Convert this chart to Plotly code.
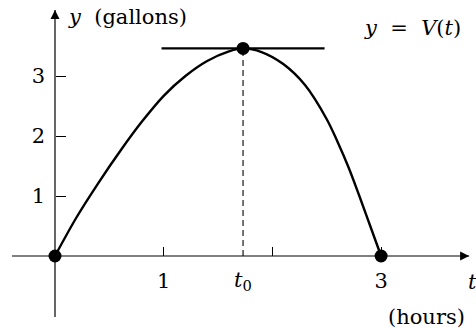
import plotly.graph_objects as go

# V(t): gallons in the tank over time (hours)
t_hours = [0, 0.2, 0.4, 0.6, 0.8, 1.0, 1.2, 1.4, 1.6, 1.73,
           1.9, 2.1, 2.3, 2.5, 2.6, 2.7, 2.8, 2.9, 3.0]
v_gallons = [0, 0.65, 1.22, 1.75, 2.24, 2.67, 3.0, 3.25, 3.41, 3.46,
             3.40, 3.20, 2.85, 2.28, 1.9, 1.48, 1.0, 0.5, 0]

t0 = 1.73          # time of the maximum
v_max = 3.46       # maximum volume
tangent_t = [0.98, 2.48]   # extent of the horizontal tangent at the maximum
dot_t = [0, t0, 3.0]
dot_v = [0, v_max, 0]

x_ticks = [1, 3]
x_tick_text = ["1", "3"]
x_minor_ticks = [2]
y_ticks = [1, 2, 3]
y_tick_text = ["1", "2", "3"]

W, H = 476, 328
x_range = [-0.506, 3.873]
y_range = [-1.2, 4.267]
x_axis_span = [-0.396, 3.81]
y_axis_span = [-1.017, 4.1]

FONT = "DejaVu Serif"
INK = "black"

fig = go.Figure()

# coordinate axes with arrow heads
fig.add_trace(go.Scatter(x=x_axis_span, y=[0, 0], mode="lines",
                         line=dict(color=INK, width=1.2), hoverinfo="skip"))
fig.add_trace(go.Scatter(x=[0, 0], y=y_axis_span, mode="lines",
                         line=dict(color=INK, width=1.2), hoverinfo="skip"))
fig.add_trace(go.Scatter(x=[x_axis_span[1]], y=[0], mode="markers",
                         marker=dict(symbol="arrow-right", size=9, color=INK),
                         hoverinfo="skip"))
fig.add_trace(go.Scatter(x=[0], y=[y_axis_span[1]], mode="markers",
                         marker=dict(symbol="arrow-up", size=9, color=INK),
                         hoverinfo="skip"))

# curve
fig.add_trace(go.Scatter(x=t_hours, y=v_gallons, mode="lines",
                         line=dict(color=INK, width=2.4, shape="spline", smoothing=1.0),
                         hoverinfo="skip"))
# horizontal tangent
fig.add_trace(go.Scatter(x=tangent_t, y=[v_max, v_max], mode="lines",
                         line=dict(color=INK, width=2.4), hoverinfo="skip"))
# dashed drop line at t0
fig.add_trace(go.Scatter(x=[t0, t0], y=[0, v_max], mode="lines",
                         line=dict(color=INK, width=1.1, dash="6px,4px"), hoverinfo="skip"))
# marked points
fig.add_trace(go.Scatter(x=dot_t, y=dot_v, mode="markers",
                         marker=dict(color=INK, size=13), hoverinfo="skip"))

annotations = [
    dict(x=66 / W, y=1 - 17 / H, xref="paper", yref="paper", xanchor="left",
         yanchor="middle", text="<i>y</i>  (gallons)", showarrow=False),
    dict(x=412 / W, y=1 - 28 / H, xref="paper", yref="paper", xanchor="center",
         yanchor="middle", text="<i>y</i>&nbsp;&nbsp;=&nbsp;&nbsp;<i>V</i>(<i>t</i>)",
         showarrow=False),
    dict(x=t0, y=1 - 281 / H, xref="x", yref="paper", xanchor="center",
         yanchor="middle", text="<i>t</i><sub>0</sub>", showarrow=False),
    dict(x=472 / W, y=1 - 282 / H, xref="paper", yref="paper", xanchor="center",
         yanchor="middle", text="<i>t</i>", showarrow=False),
    dict(x=426 / W, y=1 - 317 / H, xref="paper", yref="paper", xanchor="center",
         yanchor="middle", text="(hours)", showarrow=False),
]

fig.update_layout(
    width=W, height=H, margin=dict(l=0, r=0, t=0, b=0),
    paper_bgcolor="white", plot_bgcolor="white", showlegend=False,
    font=dict(family=FONT, size=21, color=INK),
    annotations=annotations,
    xaxis=dict(range=x_range, domain=[0, 1], anchor="free",
               position=(0 - y_range[0]) / (y_range[1] - y_range[0]),
               showgrid=False, zeroline=False, showline=False,
               tickvals=x_ticks, ticktext=x_tick_text, ticks="inside",
               ticklen=9, tickwidth=1.2, tickcolor=INK, ticklabelstandoff=10,
               minor=dict(tickvals=x_minor_ticks, ticks="inside", ticklen=9,
                          tickwidth=1.2, tickcolor=INK, showgrid=False),
               tickfont=dict(family=FONT, size=21, color=INK), fixedrange=True),
    yaxis=dict(range=y_range, domain=[0, 1], anchor="free",
               position=(0 - x_range[0]) / (x_range[1] - x_range[0]),
               showgrid=False, zeroline=False, showline=False,
               tickvals=y_ticks, ticktext=y_tick_text, ticks="inside",
               ticklen=10, tickwidth=1.2, tickcolor=INK, ticklabelstandoff=10,
               tickfont=dict(family=FONT, size=21, color=INK), fixedrange=True),
)

fig.write_html("out.html")
